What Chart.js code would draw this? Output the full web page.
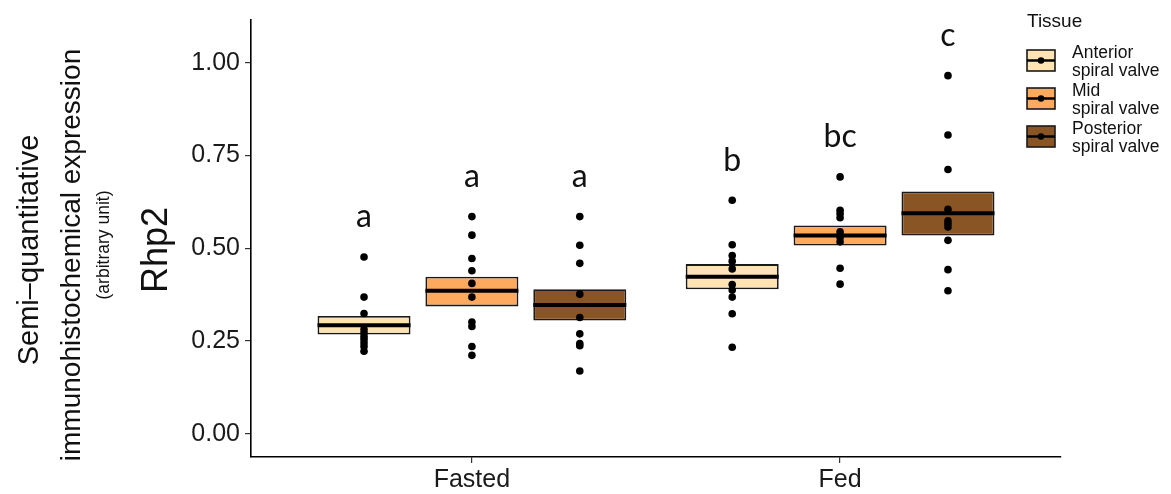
<!DOCTYPE html>
<html>
<head>
<meta charset="utf-8">
<script src="https://cdn.jsdelivr.net/npm/chart.js@4.4.1/dist/chart.umd.min.js"></script>
<style>
  body { margin: 0; background: #fff; }
  #chart { display: block; }
</style>
</head>
<body>
<canvas id="chart" width="1171" height="494"></canvas>
<script>
// x groups, tissues and y ticks
const groups = ['Fasted', 'Fed'];
const tissueLines = [['Anterior', 'spiral valve'], ['Mid', 'spiral valve'], ['Posterior', 'spiral valve']];
const tissueColors = ['#FFE3B3', '#FDA95E', '#8A5524'];
const yTicks = [0, 0.25, 0.5, 0.75, 1];

// boxes: lower edge, median, upper edge  (Fasted, Fed)
const anteriorLow = [0.267, 0.389];
const anteriorMedian = [0.292, 0.423];
const anteriorHigh = [0.317, 0.457];
const midLow = [0.343, 0.507];
const midMedian = [0.385, 0.534];
const midHigh = [0.423, 0.561];
const posteriorLow = [0.305, 0.534];
const posteriorMedian = [0.347, 0.594];
const posteriorHigh = [0.389, 0.653];

// single animals
const anteriorFasted = [0.476, 0.368, 0.324, 0.281, 0.271, 0.262, 0.254, 0.244, 0.235, 0.222];
const anteriorFed = [0.629, 0.509, 0.480, 0.465, 0.444, 0.402, 0.387, 0.368, 0.323, 0.233];
const midFasted = [0.585, 0.535, 0.472, 0.439, 0.405, 0.368, 0.301, 0.289, 0.235, 0.211];
const midFed = [0.692, 0.602, 0.593, 0.582, 0.544, 0.535, 0.529, 0.517, 0.446, 0.403];
const posteriorFasted = [0.585, 0.508, 0.459, 0.376, 0.313, 0.269, 0.243, 0.237, 0.169];
const posteriorFed = [0.965, 0.805, 0.712, 0.605, 0.574, 0.566, 0.557, 0.521, 0.442, 0.385];

// significance letters per tissue (Fasted, Fed)
const anteriorLetters = ['a', 'b'];
const midLetters = ['a', 'bc'];
const posteriorLetters = ['a', 'c'];

const lows = [anteriorLow, midLow, posteriorLow];
const medians = [anteriorMedian, midMedian, posteriorMedian];
const highs = [anteriorHigh, midHigh, posteriorHigh];
const points = [[anteriorFasted, anteriorFed], [midFasted, midFed], [posteriorFasted, posteriorFed]];
const letters = [anteriorLetters, midLetters, posteriorLetters];

const dodge = 0.293;
const xPos = (g, t) => g + 1 + (t - 1) * dodge;

const datasets = [];
// dots on top
tissueLines.forEach((t, ti) => {
  const data = [];
  groups.forEach((g, gi) => {
    points[ti][gi].forEach(v => data.push({ x: xPos(gi, ti), y: v }));
  });
  datasets.push({
    type: 'scatter', data: data, order: 0,
    pointRadius: 3.8, pointBackgroundColor: '#000', pointBorderWidth: 0
  });
});
// medians
tissueLines.forEach((t, ti) => {
  datasets.push({
    type: 'scatter', order: 1,
    data: groups.map((g, gi) => ({ x: xPos(gi, ti), y: medians[ti][gi] })),
    pointStyle: 'line', pointRadius: 46.5, pointBorderWidth: 4, pointBorderColor: '#000'
  });
});
// boxes
tissueLines.forEach((t, ti) => {
  datasets.push({
    type: 'bar', order: 2, label: t.join(' '),
    data: groups.map((g, gi) => ({ x: xPos(gi, ti), y: [lows[ti][gi], highs[ti][gi]] })),
    backgroundColor: tissueColors[ti], borderColor: '#1a1a1a', borderWidth: 1.8,
    borderSkipped: false, grouped: false, categoryPercentage: 1, barPercentage: 0.862
  });
});

const axisFont = { family: 'Liberation Sans, Arial, sans-serif', size: 25 };

const yTitlePlugin = {
  id: 'yTitles',
  afterDraw(chart) {
    const ctx = chart.ctx;
    const lines = [
      { text: 'Semi\u2013quantitative', x: 30, y: 250, size: 29 },
      { text: 'immunohistochemical expression', x: 72, y: 255, size: 28 },
      { text: '(arbitrary unit)', x: 104, y: 245, size: 17.5 },
      { text: 'Rhp2', x: 157, y: 250, size: 36 }
    ];
    lines.forEach(l => {
      ctx.save();
      ctx.translate(l.x, l.y);
      ctx.rotate(-Math.PI / 2);
      ctx.font = l.size + 'px "Liberation Sans", Arial, sans-serif';
      ctx.fillStyle = '#111';
      ctx.textAlign = 'center';
      ctx.textBaseline = 'middle';
      ctx.fillText(l.text, 0, 0);
      ctx.restore();
    });
  }
};

const lettersPlugin = {
  id: 'letters',
  afterDatasetsDraw(chart) {
    const ctx = chart.ctx;
    const xs = chart.scales.x, ys = chart.scales.y;
    ctx.save();
    ctx.font = '32px Lato, "Open Sans", sans-serif';
    ctx.fillStyle = '#111';
    ctx.textAlign = 'center';
    ctx.textBaseline = 'alphabetic';
    letters.forEach((ls, ti) => {
      ls.forEach((txt, gi) => {
        const top = Math.max(...points[ti][gi]) + 0.08;
        ctx.fillText(txt, xs.getPixelForValue(xPos(gi, ti)), ys.getPixelForValue(top));
      });
    });
    ctx.restore();
  }
};

const legendPlugin = {
  id: 'tissueLegend',
  afterDraw(chart) {
    const ctx = chart.ctx;
    const left = 1027;
    ctx.save();
    ctx.fillStyle = '#111';
    ctx.font = '19px "Liberation Sans", Arial, sans-serif';
    ctx.textBaseline = 'alphabetic';
    ctx.fillText('Tissue', left, 27);
    ctx.font = '17.5px "Liberation Sans", Arial, sans-serif';
    tissueLines.forEach((lines, i) => {
      const cy = 60 + i * 38;
      ctx.fillStyle = tissueColors[i];
      ctx.fillRect(left, cy - 10, 28, 21);
      ctx.strokeStyle = '#1a1a1a';
      ctx.lineWidth = 1.6;
      ctx.strokeRect(left, cy - 10, 28, 21);
      ctx.beginPath();
      ctx.moveTo(left, cy + 0.5);
      ctx.lineTo(left + 28, cy + 0.5);
      ctx.lineWidth = 2.5;
      ctx.strokeStyle = '#000';
      ctx.stroke();
      ctx.beginPath();
      ctx.arc(left + 14, cy + 0.5, 3.3, 0, Math.PI * 2);
      ctx.fillStyle = '#000';
      ctx.fill();
      ctx.fillStyle = '#111';
      ctx.fillText(lines[0], left + 45, cy - 2);
      ctx.fillText(lines[1], left + 45, cy + 16);
    });
    ctx.restore();
  }
};

new Chart(document.getElementById('chart'), {
  type: 'bar',
  data: { datasets: datasets },
  options: {
    responsive: false,
    animation: false,
    layout: { autoPadding: false, padding: { top: 20, right: 110, left: 0, bottom: 0 } },
    plugins: { legend: { display: false }, tooltip: { enabled: false } },
    scales: {
      x: {
        type: 'linear', min: 0.4, max: 2.6, offset: false,
        afterBuildTicks: s => { s.ticks = groups.map((g, i) => ({ value: i + 1 })); },
        afterFit: s => { s.height = 37; },
        ticks: { callback: v => groups[v - 1], font: axisFont, color: '#1a1a1a', padding: 2, autoSkip: false, maxRotation: 0 },
        grid: { offset: false, drawOnChartArea: false, drawTicks: true, tickLength: 6, color: '#333', lineWidth: 1.2 },
        border: { color: '#000', width: 1.6 }
      },
      y: {
        type: 'linear', min: -0.063, max: 1.115,
        afterBuildTicks: s => { s.ticks = yTicks.map(v => ({ value: v })); },
        afterFit: s => { s.width = 251; },
        ticks: { callback: v => v.toFixed(2), font: axisFont, color: '#1a1a1a', padding: 5 },
        grid: { drawOnChartArea: false, drawTicks: true, tickLength: 6, color: '#333', lineWidth: 1.2 },
        border: { color: '#000', width: 1.6 }
      }
    }
  },
  plugins: [yTitlePlugin, lettersPlugin, legendPlugin]
});
</script>
</body>
</html>
